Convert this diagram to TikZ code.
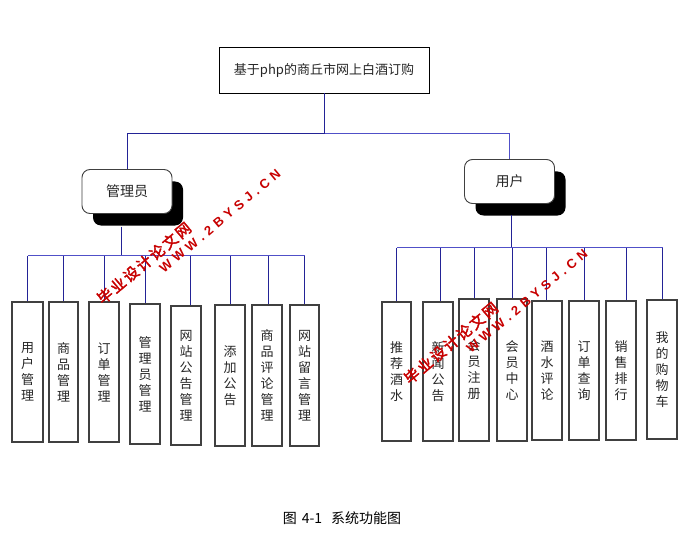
\documentclass[tikz,border=0pt]{standalone}
\usepackage{fontspec}
\newfontfamily\cjk{Noto Sans CJK SC}
\newfontfamily\cjkwm[FakeBold=2.5]{Noto Sans CJK SC}
\newfontfamily\wmlat{Liberation Sans}
\usetikzlibrary{shadows}
\tikzset{
  leaf/.style={draw=black!75, line width=1.2pt, minimum width=30pt, minimum height=140pt,
    inner sep=0pt, font=\cjk\fontsize{13}{16}\selectfont, align=center, text=black!85},
  role/.style={draw=black!75, line width=0.9pt, rounded corners=8pt, fill=white,
    minimum width=90pt, minimum height=44pt, font=\cjk\fontsize{14}{16}\selectfont, text=black!85,
    drop shadow={shadow xshift=11pt, shadow yshift=-12pt, fill=black, opacity=1}},
  conn/.style={draw={rgb,255:red,35;green,35;blue,150}, line width=1.5pt},
  bus/.style={draw={rgb,255:red,80;green,80;blue,200}, line width=1.9pt},
  wm/.style={text={rgb,255:red,200;green,0;blue,0}, rotate=40, inner sep=0pt}
}
\begin{document}
\begin{tikzpicture}[x=1pt,y=-1pt]
\useasboundingbox[fill=white] (0,0) rectangle (698,548);

% top
\node[draw=black, line width=0.9pt, minimum width=210pt, minimum height=46pt,
  font=\cjk\fontsize{13}{16}\selectfont, text=black!85] (top) at (324,70) {基于php的商丘市网上白酒订购};

% roles
\node[role] (adm) at (127,191.5) {管理员};
\node[role] (usr) at (509.5,181.5) {用户};

% left leaves
\node[leaf, minimum width=31pt] (L1) at (27.5,372) {用\\户\\管\\理};
\node[leaf, minimum width=29pt] (L2) at (63.5,372) {商\\品\\管\\理};
\node[leaf] (L3) at (104,372) {订\\单\\管\\理};
\node[leaf] (L4) at (145,374) {管\\理\\员\\管\\理};
\node[leaf, minimum height=139pt] (L5) at (186,375.5) {网\\站\\公\\告\\管\\理};
\node[leaf, minimum height=141pt] (L6) at (230,375.5) {添\\加\\公\\告};
\node[leaf, minimum height=141pt] (L7) at (267,375.5) {商\\品\\评\\论\\管\\理};
\node[leaf, minimum height=141pt, minimum width=29pt] (L8) at (304.5,375.5) {网\\站\\留\\言\\管\\理};

% right leaves
\node[leaf, minimum width=29pt, minimum height=139pt] (R1) at (396.5,371.5) {推\\荐\\酒\\水};
\node[leaf, minimum height=139pt] (R2) at (438,371.5) {新\\闻\\公\\告};
\node[leaf, minimum height=142pt] (R3) at (474,370) {会\\员\\注\\册};
\node[leaf, minimum height=142pt] (R4) at (512,370) {会\\员\\中\\心};
\node[leaf, minimum height=139pt] (R5) at (547,370.5) {酒\\水\\评\\论};
\node[leaf, minimum height=139pt] (R6) at (584,370.5) {订\\单\\查\\询};
\node[leaf, minimum height=139pt] (R7) at (621,370.5) {销\\售\\排\\行};
\node[leaf, minimum height=139pt] (R8) at (662,369.5) {我\\的\\购\\物\\车};

% top connectors
\coordinate (split) at (324.5,133.5);
\draw[conn] ([xshift=0.5pt]top.south) -- (split);
\draw[conn] ([xshift=0.5pt]adm.north) |- (split);
\draw[bus] (split) -| (usr.north);

% left bus
\coordinate (busL) at (121.5,255.5);
\draw[conn] ([xshift=-5.5pt,yshift=-13pt]adm.south) -- ([xshift=-5.5pt]adm.south |- busL);
\draw[bus] (L1.north |- busL) -- (L8.north |- busL);
\foreach \n/\d in {L1/0,L2/0,L3/0.5,L4/0.5,L5/4.5,L6/0.5,L7/1.5,L8/0}
  \draw[conn] ([xshift=\d pt]\n.north) -- ([xshift=\d pt]\n.north |- busL);

% right bus
\coordinate (busR) at (511.5,247.5);
\draw[conn] ([xshift=2pt,yshift=-11pt]usr.south) -- ([xshift=2pt]usr.south |- busR);
\draw[bus] (R1.north |- busR) -- ([xshift=0.5pt]R8.north |- busR);
\foreach \n/\d in {R1/0,R2/2.5,R3/0.5,R4/0.5,R5/-0.5,R6/0.5,R7/5.5,R8/0.5}
  \draw[conn] ([xshift=\d pt]\n.north) -- ([xshift=\d pt]\n.north |- busR);

% caption
\node[font=\cjk\fontsize{14}{16}\selectfont] (cap) at (342,518) {图\hspace{5pt}4-1\hspace{9pt}系统功能图};

% watermarks
\foreach \dx/\dy [count=\i] in {0/0,307/80}{
  \node[wm, font=\cjkwm\fontsize{15}{16}\selectfont] (wa\i) at (144+\dx,263+\dy)
    {毕\hspace{2pt}业\hspace{2pt}设\hspace{2pt}计\hspace{2pt}论\hspace{2pt}文\hspace{2pt}网};
  \node[wm, font=\wmlat\bfseries\fontsize{13}{14}\selectfont] (wb\i) at (220+\dx,221+\dy)
    {W\hspace{4.5pt}W\hspace{4.5pt}W\hspace{4.5pt}.\hspace{4.5pt}2\hspace{4.5pt}B\hspace{4.5pt}Y\hspace{4.5pt}S\hspace{4.5pt}J\hspace{4.5pt}.\hspace{4.5pt}C\hspace{4.5pt}N};
}
\end{tikzpicture}
\end{document}
